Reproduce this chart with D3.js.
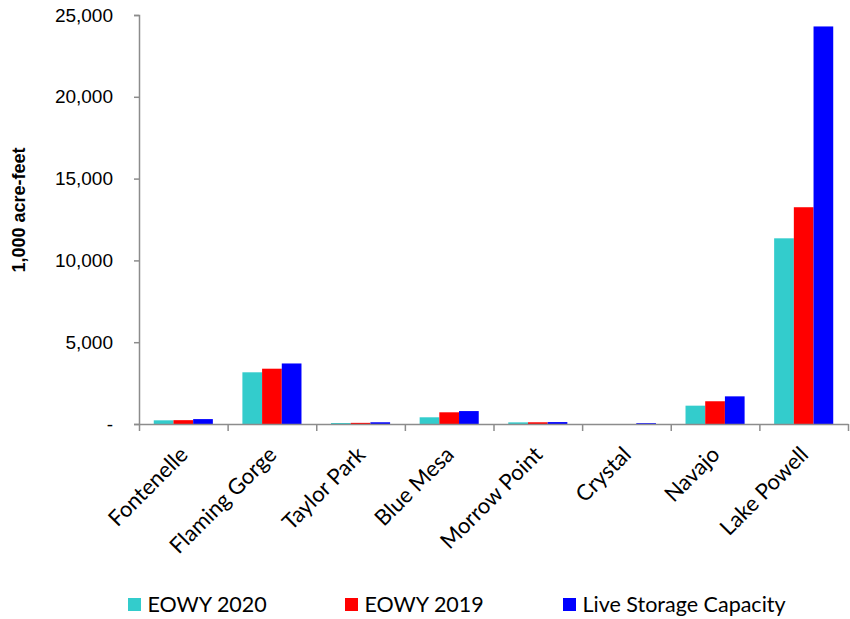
<!DOCTYPE html>
<html>
<head>
<meta charset="utf-8">
<script src="https://cdn.jsdelivr.net/npm/d3@7"></script>
<style>
  html, body { margin: 0; padding: 0; background: #fff; }
  svg { display: block; }
</style>
</head>
<body>
<div id="chart"></div>
<script>
// Reservoir storage, 1,000 acre-feet
const reservoirs = ["Fontenelle", "Flaming Gorge", "Taylor Park", "Blue Mesa",
                    "Morrow Point", "Crystal", "Navajo", "Lake Powell"];
const eowy2020 = [225, 3160, 60, 410, 100, 0, 1120, 11350];
const eowy2019 = [235, 3380, 70, 715, 105, 0, 1390, 13250];
const liveCapacity = [300, 3700, 106, 790, 117, 50, 1690, 24300];

const seriesNames = ["EOWY 2020", "EOWY 2019", "Live Storage Capacity"];
const seriesValues = [eowy2020, eowy2019, liveCapacity];
const seriesColors = ["#33CCCC", "#FF0000", "#0000FF"];
const yTicks = [0, 5000, 10000, 15000, 20000, 25000];

const width = 850, height = 619;
const plot = { left: 139, right: 848, top: 15, bottom: 424 };
const axisColor = "#8c8c8c";

const svg = d3.select("#chart").append("svg")
  .attr("width", width).attr("height", height);

const x0 = d3.scaleBand().domain(reservoirs)
  .range([plot.left, plot.right]).padding(0);
const x1 = d3.scaleBand().domain(seriesNames)
  .range([0, x0.bandwidth()]).paddingInner(0).paddingOuter(0.75);
const y = d3.scaleLinear().domain([0, 25000]).range([plot.bottom, plot.top]);

// bars
const groups = svg.append("g").selectAll("g")
  .data(reservoirs).join("g")
  .attr("transform", d => `translate(${x0(d)},0)`);

groups.selectAll("rect")
  .data((d, i) => seriesNames.map((s, k) => ({ s, k, v: seriesValues[k][i] })))
  .join("rect")
  .filter(d => d.v > 0)
  .attr("x", d => x1(d.s))
  .attr("width", x1.bandwidth())
  .attr("y", d => y(d.v))
  .attr("height", d => y(0) - y(d.v))
  .attr("fill", d => seriesColors[d.k]);

// y axis
const yAxis = svg.append("g")
  .attr("transform", `translate(${plot.left},0)`)
  .call(d3.axisLeft(y).tickValues(yTicks).tickSize(5).tickPadding(21)
    .tickFormat(d => d === 0 ? "-" : d3.format(",")(d)));
yAxis.select(".domain").attr("stroke", axisColor).attr("stroke-width", 1.5);
yAxis.selectAll(".tick line").attr("stroke", axisColor).attr("stroke-width", 1.5);
yAxis.selectAll(".tick text")
  .attr("fill", "#000")
  .style("font-family", "'Liberation Sans', Arial, sans-serif")
  .style("font-size", "19px");

// x axis: ticks sit on the category boundaries
const xEdge = d3.scaleLinear().domain([0, reservoirs.length])
  .range([plot.left, plot.right]);
const xAxis = svg.append("g")
  .attr("transform", `translate(0,${plot.bottom})`)
  .call(d3.axisBottom(xEdge).tickValues(d3.range(reservoirs.length + 1))
    .tickSize(7).tickSizeOuter(0).tickFormat(""));
xAxis.select(".domain").attr("stroke", axisColor).attr("stroke-width", 1.5);
xAxis.selectAll(".tick line").attr("stroke", axisColor).attr("stroke-width", 1.5);

// category labels, rotated
svg.append("g").selectAll("text")
  .data(reservoirs).join("text")
  .attr("transform", d => `translate(${x0(d) + x0.bandwidth() / 2 + 6},${plot.bottom + 32}) rotate(-45)`)
  .attr("text-anchor", "end")
  .style("font-family", "Lato, 'Open Sans', sans-serif")
  .style("font-size", "22px")
  .attr("fill", "#000")
  .text(d => d);

// y axis title
svg.append("text")
  .attr("transform", `translate(25,210) rotate(-90)`)
  .attr("text-anchor", "middle")
  .style("font-family", "'Liberation Sans', Arial, sans-serif")
  .style("font-size", "18px")
  .style("font-weight", "bold")
  .text("1,000 acre-feet");

// legend
const legendX = [128, 345, 563];
const legend = svg.append("g").selectAll("g")
  .data(seriesNames).join("g")
  .attr("transform", (d, i) => `translate(${legendX[i]},598)`);
legend.append("rect")
  .attr("width", 13).attr("height", 13)
  .attr("fill", (d, i) => seriesColors[i]);
legend.append("text")
  .attr("x", 19.5).attr("y", 13.7)
  .style("font-family", "Lato, 'Open Sans', sans-serif")
  .style("font-size", "21.5px")
  .attr("fill", "#000")
  .text(d => d);
</script>
</body>
</html>
